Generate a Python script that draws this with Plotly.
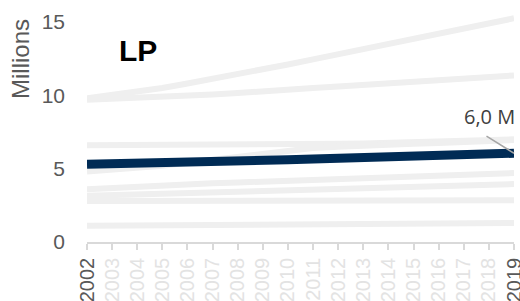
import plotly.graph_objects as go

years = list(range(2002, 2020))

lp = [5.30, 5.32, 5.35, 5.38, 5.42, 5.46, 5.50, 5.55, 5.60, 5.65, 5.70, 5.75,
      5.80, 5.85, 5.90, 5.95, 6.00, 6.05]

others = {
    "s1": [9.80, 10.00, 10.25, 10.50, 10.80, 11.10, 11.40, 11.75, 12.10, 12.45,
           12.80, 13.15, 13.50, 13.85, 14.20, 14.55, 14.90, 15.25],
    "s2": [9.70, 9.75, 9.80, 9.90, 9.95, 10.05, 10.15, 10.30, 10.40, 10.50,
           10.60, 10.70, 10.80, 10.90, 11.00, 11.10, 11.20, 11.35],
    "s3": [6.60, 6.60, 6.60, 6.60, 6.60, 6.62, 6.63, 6.65, 6.67, 6.68,
           6.70, 6.72, 6.75, 6.80, 6.85, 6.90, 6.95, 7.00],
    "s4": [4.80, 4.90, 5.05, 5.20, 5.40, 5.60, 5.85, 6.05, 6.25, 6.40,
           6.50, 6.60, 6.65, 6.70, 6.75, 6.80, 6.85, 6.95],
    "s5": [3.60, 3.70, 3.78, 3.86, 3.94, 4.00, 4.06, 4.12, 4.18, 4.24,
           4.30, 4.36, 4.42, 4.48, 4.54, 4.60, 4.65, 4.70],
    "s6": [3.15, 3.20, 3.25, 3.30, 3.35, 3.40, 3.45, 3.50, 3.55, 3.60,
           3.65, 3.70, 3.75, 3.80, 3.85, 3.90, 3.93, 3.95],
    "s7": [2.80, 2.80, 2.80, 2.80, 2.81, 2.81, 2.82, 2.82, 2.82, 2.83,
           2.83, 2.83, 2.84, 2.84, 2.84, 2.85, 2.85, 2.85],
    "s8": [1.10, 1.11, 1.12, 1.13, 1.14, 1.15, 1.16, 1.17, 1.18, 1.19,
           1.20, 1.21, 1.22, 1.24, 1.25, 1.27, 1.28, 1.30],
}

y_ticks = [0, 5, 10, 15]
label_text = "6,0 M"
title_text = "LP"

fig = go.Figure()
for name, vals in others.items():
    fig.add_trace(go.Scatter(x=years, y=vals, mode="lines", name=name,
                             line=dict(color="#efefef", width=6),
                             showlegend=False, hoverinfo="skip"))
fig.add_trace(go.Scatter(x=years, y=lp, mode="lines", name="LP",
                         line=dict(color="#002b55", width=9),
                         showlegend=False))

tick_text = []
for y in years:
    c = "#595959" if y in (years[0], years[-1]) else "#e3e3e3"
    tick_text.append(f'<span style="color:{c}">{y}</span>')

fig.update_layout(
    width=520, height=301,
    margin=dict(l=87, r=6, t=8, b=59),
    paper_bgcolor="white", plot_bgcolor="white",
    font=dict(family="Liberation Sans, Arial, sans-serif"),
    xaxis=dict(range=[years[0], years[-1]], tickmode="array",
               tickvals=years, ticktext=tick_text, tickangle=-90,
               tickfont=dict(size=20, color="#595959"),
               ticklabeloverflow="allow",
               showgrid=False, zeroline=False, automargin=False,
               showline=True, linecolor="#d9d9d9", linewidth=1.5,
               ticks="outside", ticklen=6, tickcolor="#d9d9d9", tickwidth=1.5),
    yaxis=dict(range=[0, 15.95], tickmode="array", tickvals=y_ticks,
               tickfont=dict(size=21, color="#595959"),
               showgrid=False, zeroline=False, showline=False,
               automargin=False, ticks="", ticklabelstandoff=21),
    annotations=[
        dict(text="Millions", xref="paper", yref="paper", x=0, y=0.782,
             xshift=-67, xanchor="center", yanchor="middle",
             textangle=-90, showarrow=False,
             font=dict(size=24, color="#595959")),
        dict(text=f"<b>{title_text}</b>", xref="paper", yref="paper",
             x=0.119, y=0.82, xanchor="center", yanchor="middle",
             showarrow=False, font=dict(size=30, color="#000000")),
        dict(text="", x=years[-1], y=lp[-1], xref="x", yref="y",
             showarrow=True, arrowhead=0, arrowwidth=1.5,
             arrowcolor="#a6a6a6", ax=-29, ay=-18),
        dict(text=label_text, x=years[-1], y=lp[-1], xref="x", yref="y",
             showarrow=False, xanchor="right", yanchor="middle",
             xshift=3, yshift=37,
             font=dict(size=20, color="#404040",
                       family="Open Sans, Noto Sans, sans-serif")),
    ],
)

fig.write_html(
    "out.html",
    config={"displayModeBar": False},
    post_script="document.body.style.margin='0';"
                "document.body.style.overflow='hidden';",
)
